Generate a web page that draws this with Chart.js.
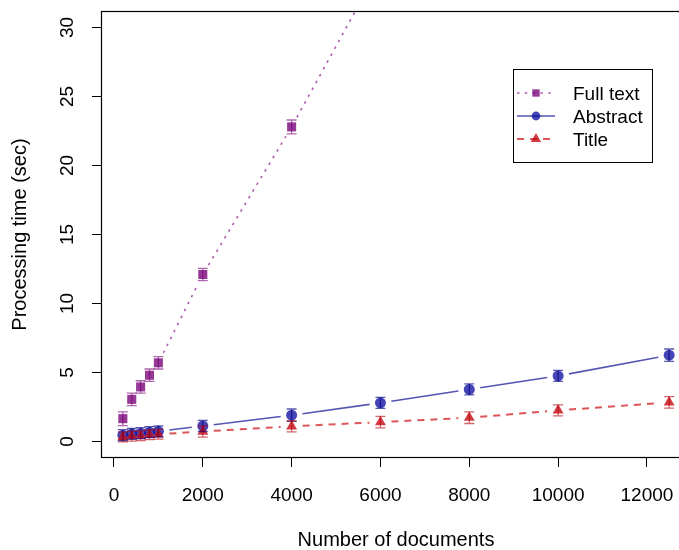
<!DOCTYPE html>
<html><head><meta charset="utf-8">
<script src="https://cdn.jsdelivr.net/npm/chart.js@4.4.1/dist/chart.umd.min.js"></script>
<style>html,body{margin:0;padding:0;overflow:hidden;background:#fff}#wrap{width:720px;height:550px}</style>
</head><body><div id="wrap"><canvas id="c" width="720" height="550"></canvas></div>
<script>
// ---- data ----
const docs = [200, 400, 600, 800, 1000, 2000, 4000, 6000, 8000, 10000, 12500];
const fullText = [1.65, 3.05, 3.95, 4.8, 5.7, 12.1, 22.8, 34.5];
const fullTextErr = [0.5, 0.45, 0.45, 0.45, 0.45, 0.45, 0.5, 0.5];
const abstractTime = [0.45, 0.55, 0.6, 0.67, 0.73, 1.12, 1.9, 2.8, 3.77, 4.75, 6.25];
const abstractErr = [0.4, 0.4, 0.4, 0.4, 0.4, 0.4, 0.45, 0.4, 0.4, 0.4, 0.45];
const titleTime = [0.32, 0.38, 0.42, 0.48, 0.52, 0.72, 1.1, 1.4, 1.72, 2.25, 2.83];
const titleErr = [0.35, 0.35, 0.35, 0.35, 0.35, 0.4, 0.4, 0.42, 0.42, 0.4, 0.42];
const seriesNames = ['Full text', 'Abstract', 'Title'];
const xTicks = [0, 2000, 4000, 6000, 8000, 10000, 12000];
const yTicks = [0, 5, 10, 15, 20, 25, 30];
const xTitle = 'Number of documents';
const yTitle = 'Processing time (sec)';

// ---- styling ----
const FONT = "'Liberation Sans', Arial, Helvetica, sans-serif";
const styles = [
  {line: 'rgba(140,20,140,0.7)', mark: 'rgba(120,0,120,0.78)', err: 'rgba(120,0,120,0.6)', width: 1.6, dash: [2.5, 5.3], shape: 'rect', r: 6.4, lr: 5.2},
  {line: 'rgba(20,20,150,0.72)', mark: 'rgba(10,10,160,0.76)', err: 'rgba(0,0,130,0.65)', width: 1.6, dash: null, shape: 'circle', r: 5.5, lr: 4.4},
  {line: 'rgba(205,20,25,0.72)', mark: 'rgba(200,10,20,0.8)', err: 'rgba(180,0,10,0.6)', width: 2, dash: [7, 6], shape: 'triangle', r: 6.3, lr: 6}
];
const GAP = 11;

function gapped(pattern, gap) {
  return function (ctx) {
    const p0 = ctx.p0, p1 = ctx.p1;
    const L = Math.hypot(p1.x - p0.x, p1.y - p0.y);
    if (!(L > 2 * gap)) return [0, L + 100000];
    const a = [0, gap];
    let rem = L - 2 * gap;
    if (!pattern) { a.push(rem, 100000); return a; }
    let i = 0;
    while (rem > 0.01) {
      const len = Math.min(pattern[i % 2], rem);
      a.push(len); rem -= len; i++;
    }
    if (a.length % 2 === 1) a.push(100000); else a.push(0, 100000);
    return a;
  };
}

const seriesValues = [fullText, abstractTime, titleTime];
const seriesErrors = [fullTextErr, abstractErr, titleErr];

const datasets = seriesValues.map((vals, k) => ({
  label: seriesNames[k],
  data: vals.map((v, i) => ({x: docs[i], y: v})),
  showLine: true,
  borderColor: styles[k].line,
  borderWidth: styles[k].width,
  borderCapStyle: 'butt',
  pointStyle: styles[k].shape,
  pointRadius: styles[k].r,
  pointBackgroundColor: styles[k].mark,
  pointBorderColor: styles[k].mark,
  pointBorderWidth: 0,
  pointHoverRadius: styles[k].r,
  clip: 0,
  order: 3 - k,
  segment: {borderDash: gapped(styles[k].dash, GAP)}
}));

const errorBars = {
  id: 'errorBars',
  afterDatasetsDraw(chart) {
    const {ctx, chartArea: a, scales: {x, y}} = chart;
    ctx.save();
    ctx.beginPath(); ctx.rect(a.left, a.top, a.right - a.left, a.bottom - a.top); ctx.clip();
    ctx.lineWidth = 1.3;
    seriesValues.forEach((vals, k) => {
      ctx.strokeStyle = styles[k].err;
      vals.forEach((v, i) => {
        const px = x.getPixelForValue(docs[i]);
        const t = y.getPixelForValue(v + seriesErrors[k][i]);
        const b = y.getPixelForValue(v - seriesErrors[k][i]);
        ctx.beginPath();
        ctx.moveTo(px, t); ctx.lineTo(px, b);
        ctx.moveTo(px - 5, t); ctx.lineTo(px + 5, t);
        ctx.moveTo(px - 5, b); ctx.lineTo(px + 5, b);
        ctx.stroke();
      });
    });
    ctx.restore();
  }
};

const frame = {
  id: 'frame',
  afterDraw(chart) {
    const {ctx, chartArea: a} = chart;
    ctx.save();
    ctx.strokeStyle = '#000'; ctx.lineWidth = 1.2;
    ctx.strokeRect(Math.round(a.left) + 0.5, Math.round(a.top) + 0.5, Math.round(a.right - a.left), Math.round(a.bottom - a.top) - 1);
    ctx.restore();
  }
};

const rLegend = {
  id: 'rLegend',
  afterDraw(chart) {
    const ctx = chart.ctx;
    const bx = 513.5, by = 69.5, bw = 139, bh = 93;
    const rows = [93, 116, 139];
    ctx.save();
    ctx.fillStyle = '#fff';
    ctx.fillRect(bx, by, bw, bh);
    ctx.strokeStyle = '#000'; ctx.lineWidth = 1;
    ctx.strokeRect(bx, by, bw, bh);
    seriesNames.forEach((name, k) => {
      const yy = rows[k];
      const s = styles[k];
      ctx.save();
      ctx.strokeStyle = s.line; ctx.lineWidth = s.width; ctx.lineCap = 'butt';
      ctx.setLineDash(s.dash || []);
      ctx.beginPath(); ctx.moveTo(517, yy); ctx.lineTo(555, yy); ctx.stroke();
      ctx.restore();
      ctx.fillStyle = s.mark; ctx.strokeStyle = s.mark;
      Chart.helpers.drawPoint(ctx, {pointStyle: s.shape, radius: s.lr, rotation: 0, borderWidth: 0}, 536, yy);
      ctx.fillStyle = '#000';
      ctx.font = '19px ' + FONT;
      ctx.textBaseline = 'middle'; ctx.textAlign = 'left';
      ctx.fillText(name, 573, yy + 1.5);
    });
    ctx.restore();
  }
};

Chart.defaults.font.family = FONT;
Chart.defaults.font.size = 19;
Chart.defaults.color = '#000';

new Chart(document.getElementById('c'), {
  type: 'scatter',
  data: {datasets},
  plugins: [errorBars, frame, rLegend],
  options: {
    responsive: false,
    animation: false,
    events: [],
    layout: {padding: {top: 11, right: 29, bottom: 0, left: 0}},
    plugins: {legend: {display: false}, tooltip: {enabled: false}},
    scales: {
      x: {
        type: 'linear', min: -292, max: 12992,
        afterBuildTicks: s => { s.ticks = xTicks.map(v => ({value: v})); },
        afterFit: s => { s.height = 92; s.paddingLeft = 0; s.paddingRight = 0; },
        border: {display: false},
        grid: {drawOnChartArea: false, drawTicks: true, tickLength: 9, color: '#000', lineWidth: 1},
        ticks: {autoSkip: false, maxRotation: 0, padding: 17, color: '#000', font: {size: 19}, callback: v => String(v)},
        title: {display: true, text: xTitle, color: '#000', font: {size: 20, lineHeight: 1}, padding: {top: 0, bottom: 0}}
      },
      y: {
        type: 'linear', min: -1.2, max: 31.2,
        afterBuildTicks: s => { s.ticks = yTicks.map(v => ({value: v})); },
        afterFit: s => { s.width = 101; s.paddingTop = 0; s.paddingBottom = 0; },
        border: {display: false},
        grid: {drawOnChartArea: false, drawTicks: true, tickLength: 9, color: '#000', lineWidth: 1},
        ticks: {autoSkip: false, minRotation: 90, maxRotation: 90, crossAlign: 'center', padding: 14, color: '#000', font: {size: 19}, callback: v => String(v)},
        title: {display: true, text: yTitle, color: '#000', font: {size: 20, lineHeight: 1}, padding: {top: 10, bottom: 0}}
      }
    }
  }
});
</script>
</body></html>
